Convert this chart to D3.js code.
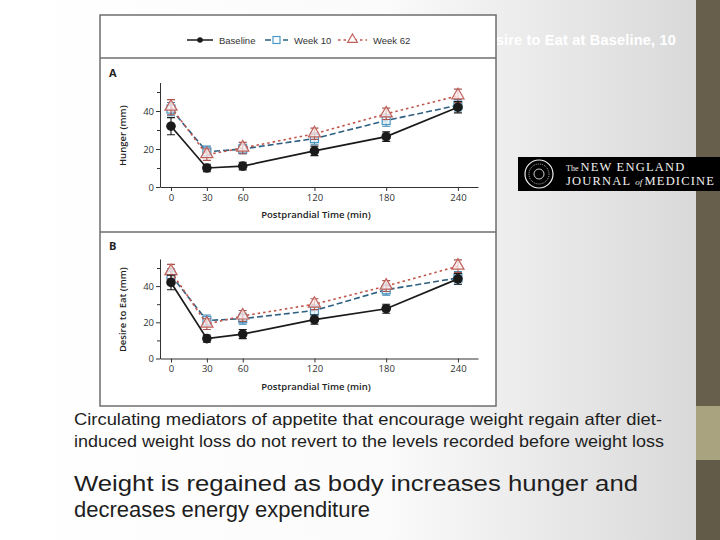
<!DOCTYPE html>
<html lang="en">
<head>
<meta charset="UTF-8">
<title>Hunger and Desire to Eat</title>
<script src="https://d3js.org/d3.v7.min.js"></script>
<style>
    * { margin: 0; padding: 0; box-sizing: border-box; }
    body { width: 720px; height: 540px; overflow: hidden; background: #fff; }
    svg { display: block; font-family: "Liberation Sans", Arial, sans-serif; }
    .axis path, .axis line { stroke: #333; stroke-width: 1; fill: none; }
    .axis text { font-size: 9.5px; fill: #333; font-family: "Open Sans", "DejaVu Sans", sans-serif; }
    .axis-title { font-size: 9.5px; font-weight: 600; fill: #222; font-family: "Open Sans", "DejaVu Sans", sans-serif; }
</style>
</head>
<body>
<svg id="slide" width="720" height="540"></svg>
<script>
// time points (min)
const times = [0, 30, 60, 120, 180, 240];

// panel A: hunger (mm)
const hungerBaseline = [32, 10, 11, 19, 26.5, 42];
const hungerBaselineErr = [4.5, 2, 2, 2.5, 2.5, 3];
const hungerWeek10 = [41, 18.5, 20, 25.5, 35, 43];
const hungerWeek10Err = [3.5, 3, 2.5, 3, 3, 3];
const hungerWeek62 = [42, 17, 20.5, 28, 38.5, 48];
const hungerWeek62Err = [4, 3, 3, 3, 3, 3.5];

// panel B: desire to eat (mm)
const desireBaseline = [42, 11, 13.5, 21.5, 27.5, 44];
const desireBaselineErr = [4, 2, 2.5, 2.5, 2.5, 3];
const desireWeek10 = [46, 21, 22, 26.5, 38, 44.5];
const desireWeek10Err = [3.5, 3, 3, 3, 3, 3.5];
const desireWeek62 = [48, 19, 23.5, 30, 40, 51];
const desireWeek62Err = [4, 3, 3, 3, 3, 3.5];

const seriesNames = ["Baseline", "Week 10", "Week 62"];
const yMajorTicks = [0, 20, 40];
const yMinorTicks = [10, 30, 50];

const bodyLine1 = "Circulating mediators of appetite that encourage weight regain after diet-";
const bodyLine2 = "induced weight loss do not revert to the levels recorded before weight loss";
const headLine1 = "Weight is regained as body increases hunger and";
const headLine2 = "decreases energy expenditure";
const hiddenTitle = "Desire to Eat at Baseline, 10";

const svg = d3.select("#slide");
const defs = svg.append("defs");

const bg = defs.append("linearGradient").attr("id", "bg").attr("x1", "0").attr("x2", "1").attr("y1", "0").attr("y2", "0");
bg.append("stop").attr("offset", "0").attr("stop-color", "#ffffff");
bg.append("stop").attr("offset", "0.55").attr("stop-color", "#fbfbfb");
bg.append("stop").attr("offset", "1").attr("stop-color", "#d9d9d9");

svg.append("rect").attr("width", 696).attr("height", 540).attr("fill", "url(#bg)");

// right strip
svg.append("rect").attr("x", 696).attr("y", 0).attr("width", 24).attr("height", 406).attr("fill", "#675f4b");
svg.append("rect").attr("x", 696).attr("y", 406).attr("width", 24).attr("height", 54).attr("fill", "#a9a47f");
svg.append("rect").attr("x", 696).attr("y", 460).attr("width", 24).attr("height", 80).attr("fill", "#625b47");

// slide title, its start hidden behind the figure
svg.append("text")
    .attr("x", 676).attr("y", 45)
    .attr("text-anchor", "end")
    .attr("font-size", 14.5).attr("font-weight", "bold")
    .attr("letter-spacing", 0.2)
    .attr("fill", "#ffffff")
    .text(hiddenTitle);

// figure frame
const fig = svg.append("g");
fig.append("rect").attr("x", 100).attr("y", 15).attr("width", 396).attr("height", 391)
    .attr("fill", "#fff").attr("stroke", "#6e6e6e").attr("stroke-width", 1.5);
fig.append("line").attr("x1", 100).attr("x2", 496).attr("y1", 58).attr("y2", 58)
    .attr("stroke", "#6e6e6e").attr("stroke-width", 1.5);
fig.append("line").attr("x1", 100).attr("x2", 496).attr("y1", 232).attr("y2", 232)
    .attr("stroke", "#6e6e6e").attr("stroke-width", 1.5);

const styles = [
    { line: "#1a1a1a", dash: null, marker: "circle", stroke: "#1a1a1a", fill: "#1a1a1a", err: "#1a1a1a" },
    { line: "#2e5f80", dash: "6,3", marker: "square", stroke: "#4b98c4", fill: "#e8f2f8", err: "#3f86b0" },
    { line: "#c0564c", dash: "2.5,3", marker: "triangle", stroke: "#c0605a", fill: "#fbeeee", err: "#a85550" }
];

function drawMarker(g, type, x, y, st) {
    if (type === "circle") {
        g.append("circle").attr("cx", x).attr("cy", y).attr("r", 4.8).attr("fill", st.fill);
    } else if (type === "square") {
        g.append("rect").attr("x", x - 4).attr("y", y - 4).attr("width", 8).attr("height", 8)
            .attr("fill", st.fill).attr("fill-opacity", 0.8).attr("stroke", st.stroke).attr("stroke-width", 1.2);
    } else {
        g.append("path").attr("d", d3.symbol().type(d3.symbolTriangle).size(64)())
            .attr("transform", `translate(${x},${y - 0.5})`)
            .attr("fill", st.fill).attr("fill-opacity", 0.75).attr("stroke", st.stroke).attr("stroke-width", 1.2);
    }
}

// legend
const legend = fig.append("g").attr("font-family", "Liberation Sans, Arial, sans-serif").attr("font-size", 9.5).attr("fill", "#333");
const legendX = [187, 265, 338];
const legendW = [26, 23, 29];
seriesNames.forEach((name, i) => {
    const st = styles[i];
    const x0 = legendX[i], w = legendW[i];
    legend.append("line").attr("x1", x0).attr("x2", x0 + w).attr("y1", 40).attr("y2", 40)
        .attr("stroke", st.line).attr("stroke-width", 1.5).attr("stroke-dasharray", st.dash);
    const m = legend.append("g");
    if (i === 0) m.append("circle").attr("cx", x0 + w / 2).attr("cy", 40).attr("r", 2.8).attr("fill", st.fill);
    else if (i === 1) m.append("rect").attr("x", x0 + w / 2 - 3.5).attr("y", 36.5).attr("width", 7).attr("height", 7)
        .attr("fill", "#fff").attr("stroke", st.stroke).attr("stroke-width", 1.2);
    else m.append("path").attr("d", d3.symbol().type(d3.symbolTriangle).size(40)())
        .attr("transform", `translate(${x0 + w / 2},${39.5})`).attr("fill", "#fff").attr("stroke", st.stroke).attr("stroke-width", 1.2);
    legend.append("text").attr("x", x0 + w + 6).attr("y", 43.5).text(name);
});

const x = d3.scaleLinear().domain([-9.2, 256.8]).range([160, 478]);

function drawPanel(label, yTitle, y0, pxPerUnit, data) {
    const y = d3.scaleLinear().domain([0, 55]).range([y0, y0 - 55 * pxPerUnit]);
    const g = fig.append("g");

    g.append("text").attr("x", 109).attr("y", label === "A" ? 77 : 250)
        .attr("font-size", 11).attr("font-weight", "bold").attr("fill", "#222")
        .attr("font-family", "Open Sans, DejaVu Sans, sans-serif").text(label);

    g.append("g").attr("class", "axis").attr("transform", `translate(0,${y0})`)
        .call(d3.axisBottom(x).tickValues(times).tickSize(4).tickSizeOuter(0).tickPadding(3));

    g.append("g").attr("class", "axis").attr("transform", "translate(160,0)")
        .call(d3.axisLeft(y).tickValues(yMajorTicks).tickSize(4).tickSizeOuter(0).tickPadding(2));
    g.append("g").attr("class", "axis").attr("transform", "translate(160,0)")
        .call(d3.axisLeft(y).tickValues(yMinorTicks).tickSize(3).tickFormat("").tickSizeOuter(0))
        .select(".domain").remove();

    g.append("text").attr("class", "axis-title").attr("x", (x(-9.2) + x(256.8)) / 2 - 3).attr("y", y0 + 31)
        .attr("text-anchor", "middle").text("Postprandial Time (min)");
    g.append("text").attr("class", "axis-title")
        .attr("transform", `translate(126,${y(27)}) rotate(-90)`)
        .attr("text-anchor", "middle").text(yTitle);

    // week 10, week 62 first, baseline on top
    [1, 2, 0].forEach(i => {
        const st = styles[i];
        const vals = data[i].v, errs = data[i].e;
        const pts = times.map((t, k) => [x(t), y(vals[k])]);
        g.append("path").attr("d", d3.line()(pts)).attr("fill", "none")
            .attr("stroke", st.line).attr("stroke-width", i === 0 ? 1.7 : 1.6)
            .attr("stroke-dasharray", st.dash);
        times.forEach((t, k) => {
            const cx = x(t), top = y(vals[k] + errs[k]), bot = y(vals[k] - errs[k]);
            g.append("path").attr("d", `M${cx - 4},${top}H${cx + 4}M${cx},${top}V${bot}M${cx - 4},${bot}H${cx + 4}`)
                .attr("stroke", st.err).attr("stroke-width", 1.1).attr("fill", "none");
        });
        times.forEach((t, k) => drawMarker(g, st.marker, x(t), y(vals[k]), st));
    });
}

drawPanel("A", "Hunger (mm)", 187, 1.9, [
    { v: hungerBaseline, e: hungerBaselineErr },
    { v: hungerWeek10, e: hungerWeek10Err },
    { v: hungerWeek62, e: hungerWeek62Err }
]);
drawPanel("B", "Desire to Eat (mm)", 358.5, 1.81, [
    { v: desireBaseline, e: desireBaselineErr },
    { v: desireWeek10, e: desireWeek10Err },
    { v: desireWeek62, e: desireWeek62Err }
]);

// NEJM logo
const logo = svg.append("g");
logo.append("rect").attr("x", 518).attr("y", 157).attr("width", 202).attr("height", 34).attr("fill", "#000");
logo.append("circle").attr("cx", 539).attr("cy", 174).attr("r", 14).attr("fill", "none").attr("stroke", "#eee").attr("stroke-width", 1.2);
logo.append("circle").attr("cx", 539).attr("cy", 174).attr("r", 10).attr("fill", "none").attr("stroke", "#ddd").attr("stroke-width", 0.8).attr("stroke-dasharray", "1,1");
logo.append("circle").attr("cx", 539).attr("cy", 174).attr("r", 5).attr("fill", "none").attr("stroke", "#ccc").attr("stroke-width", 1);
const logoText = logo.append("g").attr("font-family", "Liberation Serif, DejaVu Serif, serif").attr("fill", "#f2f2f2");
logoText.append("text").attr("x", 566).attr("y", 171).attr("font-size", 12.5).attr("letter-spacing", 1.2)
    .call(t => { t.append("tspan").attr("font-size", 8).attr("letter-spacing", 0).text("The "); t.append("tspan").text("NEW ENGLAND"); });
logoText.append("text").attr("x", 566).attr("y", 185).attr("font-size", 12.5).attr("letter-spacing", 1.2)
    .call(t => {
        t.append("tspan").text("JOURNAL ");
        t.append("tspan").attr("font-size", 9).attr("font-style", "italic").attr("letter-spacing", 0).text("of ");
        t.append("tspan").text("MEDICINE");
    });

// slide texts
const txt = svg.append("g").attr("fill", "#1e1e1e");
txt.append("text").attr("x", 74).attr("y", 425).attr("font-size", 16.5).attr("textLength", 588).attr("lengthAdjust", "spacingAndGlyphs").text(bodyLine1);
txt.append("text").attr("x", 74).attr("y", 447).attr("font-size", 16.5).attr("textLength", 590).attr("lengthAdjust", "spacingAndGlyphs").text(bodyLine2);
txt.append("text").attr("x", 74).attr("y", 491).attr("font-size", 22).attr("textLength", 564).attr("lengthAdjust", "spacingAndGlyphs").text(headLine1);
txt.append("text").attr("x", 74).attr("y", 517).attr("font-size", 22).text(headLine2);
</script>
</body>
</html>
